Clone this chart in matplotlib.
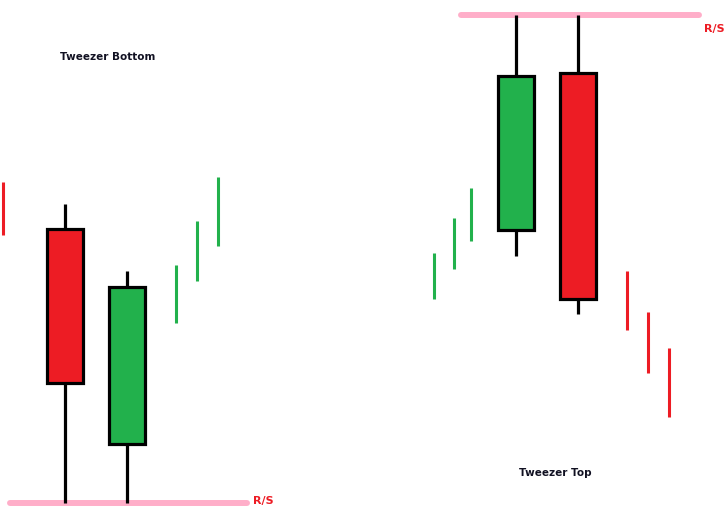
import matplotlib.pyplot as plt

# colores tipo Paint
rojo = '#ED1C24'
verde = '#22B14C'
rosa = '#FFAEC9'

# velas grandes (coordenadas en pixeles de la imagen, y hacia abajo)
vela_x = [65, 127, 516, 578]
vela_sup = [229, 287, 76, 73]     # borde superior del cuerpo
vela_inf = [383, 444, 230, 299]   # borde inferior del cuerpo
vela_max = [204, 271, 15, 15]     # punta de la mecha de arriba
vela_min = [503, 503, 256, 314]   # punta de la mecha de abajo
vela_col = [rojo, verde, verde, rojo]

# rayitas finas (velas pequeñas)
linea_x = [3, 176, 197, 218, 434, 454, 471, 627, 648, 669]
linea_sup = [182, 265, 221, 177, 253, 218, 188, 271, 312, 348]
linea_inf = [235, 323, 281, 246, 299, 269, 241, 330, 373, 417]
linea_col = [rojo, verde, verde, verde, verde, verde, verde, rojo, rojo, rojo]

# soporte / resistencia
rs_y = [503, 15]
rs_x0 = [10, 461]
rs_x1 = [247, 699]

fig = plt.figure(figsize=(7.26, 5.07), dpi=100)
ax = fig.add_axes([0, 0, 1, 1])
ax.set_xlim(0, 726)
ax.set_ylim(507, 0)
ax.axis('off')

for i in range(len(rs_y)):
    ax.hlines(rs_y[i], rs_x0[i], rs_x1[i], color=rosa, linewidth=4.3, capstyle='round', zorder=1)

for i in range(len(vela_x)):
    ax.vlines(vela_x[i], vela_max[i], vela_min[i], color='black', linewidth=2.3, zorder=2)
    ax.bar(vela_x[i], vela_inf[i] - vela_sup[i], bottom=vela_sup[i], width=36,
           color=vela_col[i], edgecolor='black', linewidth=2.3, zorder=3)

for i in range(len(linea_x)):
    ax.vlines(linea_x[i], linea_sup[i], linea_inf[i], color=linea_col[i], linewidth=2.2, zorder=2)

ax.text(60, 57, 'Tweezer Bottom', fontsize=7.5, fontweight='bold', color='#111122', va='center')
ax.text(519, 473, 'Tweezer Top', fontsize=7.5, fontweight='bold', color='#111122', va='center')
ax.text(253, 501, 'R/S', fontsize=8, fontweight='bold', color=rojo, va='center')
ax.text(704, 29, 'R/S', fontsize=8, fontweight='bold', color=rojo, va='center')

fig.savefig('out.png', dpi=100)
